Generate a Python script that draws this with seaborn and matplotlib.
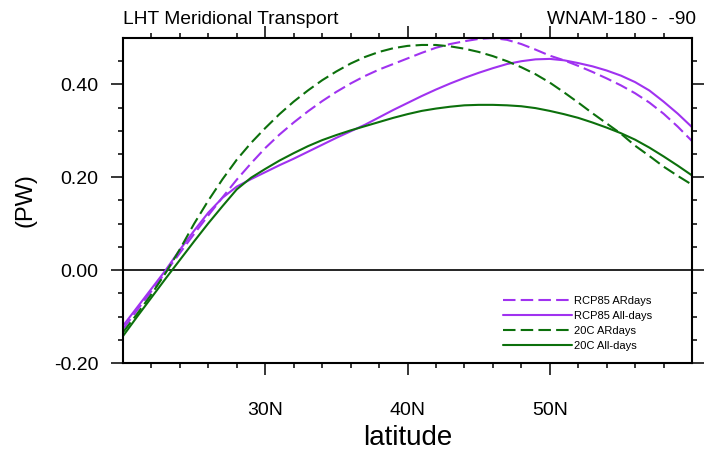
import numpy as np
import pandas as pd
import matplotlib
matplotlib.use("Agg")
import matplotlib.pyplot as plt
import seaborn as sns

# ---- data ----
latitude = list(range(20, 61))
rcp85_ardays = [-0.127, -0.086, -0.045, -0.004, 0.037, 0.078, 0.118, 0.157, 0.195, 0.230,
                0.263, 0.292, 0.318, 0.342, 0.364, 0.384, 0.402, 0.418, 0.432, 0.444,
                0.456, 0.468, 0.479, 0.487, 0.493, 0.498, 0.500, 0.496, 0.487, 0.475,
                0.462, 0.452, 0.440, 0.427, 0.413, 0.398, 0.381, 0.361, 0.337, 0.309,
                0.278]
rcp85_alldays = [-0.120, -0.080, -0.040, 0.000, 0.044, 0.085, 0.124, 0.156, 0.180, 0.196,
                 0.211, 0.226, 0.240, 0.255, 0.270, 0.285, 0.299, 0.313, 0.329, 0.345,
                 0.360, 0.375, 0.389, 0.402, 0.414, 0.425, 0.435, 0.444, 0.450, 0.454,
                 0.455, 0.452, 0.446, 0.439, 0.430, 0.419, 0.405, 0.387, 0.363, 0.337,
                 0.308]
c20_ardays = [-0.134, -0.094, -0.052, -0.006, 0.045, 0.100, 0.150, 0.196, 0.238, 0.274,
              0.306, 0.336, 0.363, 0.387, 0.409, 0.428, 0.445, 0.459, 0.470, 0.478,
              0.483, 0.485, 0.485, 0.482, 0.477, 0.470, 0.461, 0.450, 0.437, 0.422,
              0.404, 0.383, 0.361, 0.338, 0.316, 0.294, 0.268, 0.246, 0.223, 0.203,
              0.184]
c20_alldays = [-0.142, -0.100, -0.059, -0.018, 0.022, 0.062, 0.101, 0.138, 0.174, 0.199,
               0.218, 0.236, 0.252, 0.267, 0.280, 0.291, 0.301, 0.310, 0.319, 0.328,
               0.336, 0.343, 0.348, 0.352, 0.355, 0.356, 0.356, 0.355, 0.353, 0.349,
               0.343, 0.336, 0.328, 0.318, 0.307, 0.295, 0.281, 0.264, 0.245, 0.225,
               0.204]

series_names = ["RCP85 ARdays", "RCP85 All-days", "20C ARdays", "20C All-days"]
series_values = [rcp85_ardays, rcp85_alldays, c20_ardays, c20_alldays]
x_ticks = [30, 40, 50]
x_ticklabels = ["30N", "40N", "50N"]
y_ticks = [-0.2, 0.0, 0.2, 0.4]
y_ticklabels = ["-0.20", "0.00", "0.20", "0.40"]
title_left = "LHT Meridional Transport"
title_right = "WNAM-180 -  -90"

# ---- style ----
sns.set_style("white")
plt.rcParams['font.family'] = ['Liberation Sans', 'DejaVu Sans']
plt.rcParams['text.color'] = 'black'
plt.rcParams['axes.labelcolor'] = 'black'
plt.rcParams['xtick.color'] = 'black'
plt.rcParams['ytick.color'] = 'black'

purple = "#a032f0"
green = "#0c700c"
colors = [purple, purple, green, green]
dash = (0, (6, 2.5))
styles = [dash, "-", dash, "-"]

fig = plt.figure(figsize=(7.12, 4.5), dpi=100)
ax = fig.add_axes([123 / 712, 1 - 363 / 450, 569 / 712, 325 / 450])

for name, vals, c, ls in zip(series_names, series_values, colors, styles):
    df = pd.DataFrame({"lat": latitude, "val": vals})
    sns.lineplot(data=df, x="lat", y="val", ax=ax, color=c, linestyle=ls,
                 linewidth=1.5, label=name)

ax.axhline(0, color="black", linewidth=1.2, zorder=1)

ax.set_xlim(20, 60)
ax.set_ylim(-0.2, 0.5)
ax.set_xticks(x_ticks)
ax.set_xticklabels(x_ticklabels)
ax.set_xticks(np.arange(22, 60, 2), minor=True)
ax.set_yticks(y_ticks)
ax.set_yticklabels(y_ticklabels)
ax.set_yticks(np.arange(-0.15, 0.5, 0.05), minor=True)
ax.set_xlabel("")
ax.set_ylabel("")

for sp in ax.spines.values():
    sp.set_linewidth(1.5)
    sp.set_color("black")

ax.tick_params(axis="both", which="both", direction="out", top=True, right=True,
               bottom=True, left=True, color="black", width=1.1)
ax.tick_params(axis="both", which="major", length=8.6, labelsize=14, labelcolor="black")
ax.tick_params(axis="both", which="minor", length=3.6)
ax.tick_params(axis="x", which="major", pad=19.5)
ax.tick_params(axis="y", which="major", pad=9)

leg = ax.legend(loc="upper left", bbox_to_anchor=(0.668, 0.205), frameon=False,
                fontsize=8, handlelength=6.2, handletextpad=0.2,
                labelspacing=0.45, borderpad=0, borderaxespad=0)

fig.text(123 / 712, 1 - 24 / 450, title_left, fontsize=13.8, ha="left", va="baseline")
fig.text(696 / 712, 1 - 24 / 450, title_right, fontsize=13.8, ha="right", va="baseline")
fig.text(25 / 712, 1 - 200 / 450, "(PW)", fontsize=17, rotation=90, ha="center", va="center")
fig.text(407.5 / 712, 1 - 445 / 450, "latitude", fontsize=20, ha="center", va="baseline")

fig.savefig("out.png", dpi=100)
